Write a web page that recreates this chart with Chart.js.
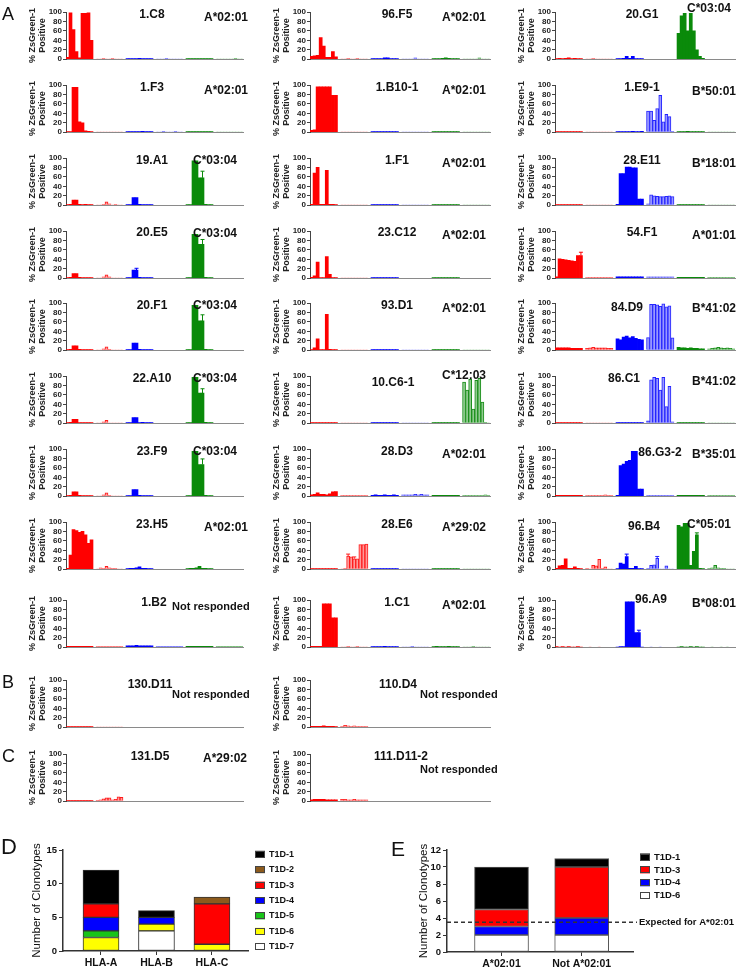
<!DOCTYPE html>
<html>
<head>
<meta charset="utf-8">
<script src="https://cdn.jsdelivr.net/npm/chart.js@4.4.1/dist/chart.umd.min.js"></script>
<style>
body { margin: 0; background: #fff; width: 741px; height: 968px; position: relative; overflow: hidden;
       font-family: Arial, "Liberation Sans", sans-serif; }
canvas { position: absolute; }
.t { position: absolute; font-weight: bold; font-size: 12px; color: #111; white-space: nowrap; line-height: 1; transform: translateY(-50%); }
.n { transform: translate(-50%, -50%); }
.nr { font-size: 11px; }
.L { position: absolute; font-size: 18px; color: #111; line-height: 1; transform: translateY(-50%); }
</style>
</head>
<body>
<script>
/* Groups of tested alleles: HLA-A (solid / light), HLA-B (solid / light), HLA-C (solid / light) */
var groupNames = ['A', 'A-ii', 'B', 'B-ii', 'C', 'C-ii'];
var slotNames = ['1', '2', '3', '4', '5', '6', '7', '8', '9'];

/* % ZsGreen-1 positive, 6 groups x 9 alleles, null = group not tested */
var p1C8 = [[4,98,63,16,3,97,97,98,40],[1,1,2,1,1,2,1,1,1],[1,1,1,1,2,1,1,1,1],[1,1,1,2,1,1,1,1,1],[1,1,1,1,1,1,1,1,1],[1,1,1,1,1,1,2,1,1]];
var p1F3 = [[1,1,95,95,22,20,3,2,1],[1,1,1,1,1,1,1,1,1],[1,1,1,1,1,2,1,1,1],[1,1,2,1,1,1,2,1,1],[1,1,1,1,1,1,1,1,1],[1,1,1,1,1,1,1,1,1]];
var p19A1 = [[1,2,11,11,2,1,2,1,1],[1,1,2,7,3,1,2,1,1],[1,1,16,16,2,1,1,1,1],null,[1,1,94,94,58,58,2,1,1],null];
var p20E5 = [[1,2,10,10,2,1,1,1,1],[1,1,3,7,3,1,1,1,1],[1,1,17,17,2,1,1,1,1],null,[1,1,93,93,72,72,2,1,1],null];
var p20F1 = [[1,2,9,9,2,1,1,1,1],[1,1,3,7,2,1,1,1,1],[1,1,15,15,2,1,1,1,1],null,[1,1,95,95,62,62,2,1,1],null];
var p22A10 = [[1,2,8,8,1,1,1,1,1],[1,1,3,6,1,1,1,1,1],[1,1,12,12,1,2,1,1,1],null,[1,1,97,97,64,64,2,1,1],null];
var p23F9 = [[1,2,9,9,2,1,1,1,1],[1,1,3,7,2,1,1,1,1],[1,1,14,14,2,1,1,1,1],null,[1,1,95,95,67,67,2,1,1],null];
var p23H5 = [[2,30,84,82,78,80,73,55,62],[1,3,2,6,3,2,2,1,1],[1,2,2,3,5,2,2,1,1],null,[1,2,2,3,6,2,2,1,1],null];
var p1B2 = [[2,2,2,2,2,2,2,2,2],[2,2,2,2,2,2,2,2,2],[3,3,3,4,3,3,3,3,3],[2,2,2,2,2,2,2,2,2],[2,2,2,2,2,2,2,2,2],[2,2,2,2,2,2,2,2,2]];

var p96F5 = [[6,7,8,46,28,4,4,16,5],[1,1,2,1,1,2,1,1,1],[1,1,1,1,3,3,1,1,1],[1,1,1,1,3,1,1,1,1],[1,1,1,2,3,2,1,1,1],[1,1,1,1,1,3,1,1,1]];
var p1B101 = [[4,5,96,96,96,96,96,78,78],[1,1,1,1,1,1,1,1,1],[1,1,1,1,1,1,1,1,1],[1,1,1,1,1,1,1,1,1],[1,1,1,1,1,1,1,1,1],[1,1,1,1,1,1,1,1,1]];
var p1F1 = [[2,68,80,2,2,74,2,2,1],[1,1,1,1,1,1,1,1,1],[1,1,1,1,1,1,1,1,1],[1,1,1,1,1,1,1,1,1],[1,1,1,1,1,1,1,1,1],[1,1,1,1,1,1,1,1,1]];
var p23C12 = [[2,5,34,1,1,46,8,1,1],[1,1,1,1,1,1,1,1,1],[1,1,1,1,1,1,1,1,1],null,[1,1,1,1,1,1,1,1,1],null];
var p93D1 = [[1,5,24,1,1,76,2,1,1],[1,1,1,1,1,1,1,1,1],[1,1,1,1,1,1,1,1,1],[1,1,1,1,1,1,1,1,1],[1,1,1,1,1,1,1,1,1],[1,1,1,1,1,1,1,1,1]];
var p10C61 = [[1,1,1,1,1,1,1,1,1],[1,1,1,1,1,1,1,1,1],[1,1,1,1,1,1,1,1,1],[1,1,1,1,1,1,1,1,1],[1,1,1,1,1,1,1,1,1],[87,70,93,30,91,95,45,2,1]];
var p28D3 = [[3,4,7,4,4,3,5,9,10],[2,2,2,2,2,2,2,2,2],[2,3,2,2,3,2,2,3,2],[3,3,3,3,4,3,4,3,3],[2,2,2,2,2,2,2,2,2],[2,2,2,2,2,2,2,3,2]];
var p28E6 = [[1,1,1,1,1,1,1,1,1],[1,2,28,26,22,22,52,52,53],[1,1,1,1,1,1,1,1,1],[1,1,1,1,1,1,1,1,1],[1,1,1,1,1,1,1,1,1],[1,1,1,1,1,1,1,1,1]];
var p1C1 = [[2,2,2,2,92,92,92,62,62],[1,1,2,1,1,2,1,1,1],[1,1,1,1,2,1,1,1,1],[1,1,1,2,1,1,1,1,1],[1,2,1,1,1,2,1,1,1],[1,1,1,2,1,1,1,1,1]];

var p20G1 = [[1,2,1,2,3,1,2,1,1],[1,1,2,1,1,1,1,1,1],[1,1,2,6,2,6,1,1,1],null,[55,92,97,60,97,60,20,6,2],null];
var p1E91 = [[1,1,1,1,1,1,1,1,1],[1,1,1,1,1,1,1,1,1],[1,1,1,1,1,2,1,1,2],[45,45,25,50,78,22,38,33,2],[1,1,1,2,1,1,1,1,1],[1,1,1,1,1,1,1,1,1]];
var p28E11 = [[1,1,1,1,1,1,1,1,1],[1,1,1,1,1,1,1,1,1],[2,67,67,81,81,79,79,13,13],[3,22,20,19,18,18,19,20,18],[1,1,1,1,1,1,1,1,1],[1,1,1,1,1,1,1,1,1]];
var p54F1 = [[3,41,40,39,38,37,36,48,48],[2,2,2,2,2,2,2,2,2],[3,3,3,3,3,3,3,3,3],[3,3,3,3,3,3,3,3,3],[2,2,2,2,2,2,2,2,2],[2,2,2,2,2,2,2,2,2]];
var p84D9 = [[5,5,5,5,5,4,4,4,4],[4,5,6,5,5,5,5,4,4],[24,22,28,30,26,29,25,23,22],[27,97,97,96,93,98,92,94,26],[6,5,5,4,5,4,4,3,3],[3,4,5,6,5,4,5,4,3]];
var p86C1 = [[1,1,1,1,1,1,1,1,1],[1,1,1,1,1,1,1,1,1],[1,1,1,1,1,1,1,1,1],[5,92,97,95,70,97,35,78,3],[1,1,1,1,1,1,1,1,1],[1,1,1,1,1,1,1,1,1]];
var p86G32 = [[2,2,2,2,2,2,2,2,2],[2,2,2,2,2,2,3,2,2],[2,65,68,74,76,95,95,15,15],[2,2,2,2,2,2,2,2,2],[2,2,2,2,2,2,2,2,2],[2,2,2,2,2,2,2,2,2]];
var p96B4 = [[2,7,8,22,2,2,5,2,1],[2,1,8,7,21,2,5,1,1],[1,13,11,27,2,2,6,1,1],[2,8,9,23,1,1,7,1,1],[93,90,97,97,8,38,73,2,1],[2,3,8,3,2,2,1,1,1]];
var p96A9 = [[1,0,1,0,1,0,0,1,0],[0,1,0,0,1,0,0,0,0],[0,1,1,96,96,96,31,31,0],[0,1,0,0,1,0,0,0,0],[0,1,0,0,1,0,1,0,0],[0,1,0,0,1,0,1,0,0]];

var p130D11 = [[1,1,1,1,1,1,1,1,1],[1,1,1,1,1,1,1,1,1],null,null,null,null];
var p110D4 = [[2,2,2,2,3,2,2,2,1],[2,4,3,2,3,2,2,2,2],null,null,null,null];
var p131D5 = [[1,1,1,1,1,1,1,1,1],[2,3,5,7,7,3,4,9,8],null,null,null,null];
var p111D112 = [[3,4,4,4,4,3,3,3,3],[4,4,3,3,4,3,3,3,3],null,null,null,null];

/* error bars: [group, allele, +SD] */
var e19A1 = [[4, 5, 14]];
var e20E5 = [[4, 5, 10], [2, 3, 4]];
var e20F1 = [[4, 5, 13]];
var e22A10 = [[4, 5, 9]];
var e23F9 = [[4, 5, 12]];
var e54F1 = [[0, 8, 7]];
var e28E6 = [[1, 2, 4], [1, 4, 4]];
var e96A9 = [[2, 7, 5]];
var e96B4 = [[2, 3, 5], [3, 3, 4], [4, 6, 4]];

/* D: clonotypes per locus */
var dCats = ['HLA-A', 'HLA-B', 'HLA-C'];
var dT1D1 = [5, 1, 0];
var dT1D2 = [0, 0, 1];
var dT1D3 = [2, 0, 6];
var dT1D4 = [2, 1, 0];
var dT1D5 = [1, 0, 0];
var dT1D6 = [2, 1, 1];
var dT1D7 = [0, 3, 0];

/* E: A*02:01 vs others */
var eCats = ['A*02:01', 'Not A*02:01'];
var eT1D1 = [5, 1];
var eT1D3 = [2, 6];
var eT1D4 = [1, 2];
var eT1D6 = [2, 2];
var eExpected = 3.5;

var groupFill = ['#ff0000', '#ff9a9a', '#0000ff', '#9a9aff', '#0a8a0a', '#8fca8f'];
var groupEdge = ['#ff0000', '#ff1a1a', '#0000ff', '#2424ff', '#0a8a0a', '#1b8f1b'];
var groupBorder = [0, 1, 0, 1, 0, 1];

var colAxis = [66, 310, 555];
var colEnd = [243, 490, 735];
var colName = [152, 397, 642];
var colHla = [204, 442, 692];
var rowTop = [12, 85, 158, 230.5, 303, 376, 449, 522, 600];

var panels = [
  { name: '1.C8', hla: 'A*02:01', col: 0, top: rowTop[0], data: p1C8 },
  { name: '1.F3', hla: 'A*02:01', col: 0, top: rowTop[1], data: p1F3 },
  { name: '19.A1', hla: 'C*03:04', col: 0, top: rowTop[2], data: p19A1, err: e19A1, hx: 193, hy: 2 },
  { name: '20.E5', hla: 'C*03:04', col: 0, top: rowTop[3], data: p20E5, err: e20E5, hx: 193, hy: 2 },
  { name: '20.F1', hla: 'C*03:04', col: 0, top: rowTop[4], data: p20F1, err: e20F1, hx: 193, hy: 2 },
  { name: '22.A10', hla: 'C*03:04', col: 0, top: rowTop[5], data: p22A10, err: e22A10, hx: 193, hy: 2 },
  { name: '23.F9', hla: 'C*03:04', col: 0, top: rowTop[6], data: p23F9, err: e23F9, hx: 193, hy: 2 },
  { name: '23.H5', hla: 'A*02:01', col: 0, top: rowTop[7], data: p23H5 },
  { name: '1.B2', hla: 'Not responded', col: 0, top: rowTop[8], data: p1B2, nx: 154, hx: 172, hy: 6, small: true },

  { name: '96.F5', hla: 'A*02:01', col: 1, top: rowTop[0], data: p96F5 },
  { name: '1.B10-1', hla: 'A*02:01', col: 1, top: rowTop[1], data: p1B101 },
  { name: '1.F1', hla: 'A*02:01', col: 1, top: rowTop[2], data: p1F1 },
  { name: '23.C12', hla: 'A*02:01', col: 1, top: rowTop[3], data: p23C12 },
  { name: '93.D1', hla: 'A*02:01', col: 1, top: rowTop[4], data: p93D1 },
  { name: '10.C6-1', hla: 'C*12:03', col: 1, top: rowTop[5], data: p10C61, nx: 393, ny: 6, hy: -1 },
  { name: '28.D3', hla: 'A*02:01', col: 1, top: rowTop[6], data: p28D3 },
  { name: '28.E6', hla: 'A*29:02', col: 1, top: rowTop[7], data: p28E6, err: e28E6 },
  { name: '1.C1', hla: 'A*02:01', col: 1, top: rowTop[8], data: p1C1 },

  { name: '20.G1', hla: 'C*03:04', col: 2, top: rowTop[0], data: p20G1, hx: 687, hy: -4.5 },
  { name: '1.E9-1', hla: 'B*50:01', col: 2, top: rowTop[1], data: p1E91, hy: 6 },
  { name: '28.E11', hla: 'B*18:01', col: 2, top: rowTop[2], data: p28E11 },
  { name: '54.F1', hla: 'A*01:01', col: 2, top: rowTop[3], data: p54F1, err: e54F1 },
  { name: '84.D9', hla: 'B*41:02', col: 2, top: rowTop[4], data: p84D9, nx: 627, ny: 3.5, hy: 5 },
  { name: '86.C1', hla: 'B*41:02', col: 2, top: rowTop[5], data: p86C1, nx: 624 },
  { name: '86.G3-2', hla: 'B*35:01', col: 2, top: rowTop[6], data: p86G32, nx: 660, ny: 3 },
  { name: '96.B4', hla: 'C*05:01', col: 2, top: rowTop[7], data: p96B4, err: e96B4, nx: 644, ny: 4, hx: 687, hy: 2 },
  { name: '96.A9', hla: 'B*08:01', col: 2, top: rowTop[8], data: p96A9, err: e96A9, nx: 651, ny: -1, hy: 2.5 },

  { name: '130.D11', hla: 'Not responded', col: 0, top: 680, data: p130D11, nx: 150, ny: 4, hx: 172, hy: 14, small: true },
  { name: '110.D4', hla: 'Not responded', col: 1, top: 680, data: p110D4, nx: 398, ny: 4, hx: 420, hy: 14, small: true },
  { name: '131.D5', hla: 'A*29:02', col: 0, top: 754, data: p131D5, nx: 150, ny: 2, hx: 203, hy: 4 },
  { name: '111.D11-2', hla: 'Not responded', col: 1, top: 754, data: p111D112, nx: 401, ny: 2, hx: 420, hy: 15, small: true }
];

var slotLabels = [];
groupNames.forEach(function(g, gi) {
  slotNames.forEach(function(s) { slotLabels.push(g + '.' + s); });
  if (gi < groupNames.length - 1) slotLabels.push('');
});

function addText(cls, text, x, y) {
  var d = document.createElement('div');
  d.className = cls;
  d.textContent = text;
  d.style.left = x + 'px';
  d.style.top = y + 'px';
  document.body.appendChild(d);
  return d;
}

function makeCanvas(left, top, w, h) {
  var c = document.createElement('canvas');
  c.width = w; c.height = h;
  c.style.left = left + 'px'; c.style.top = top + 'px';
  c.style.width = w + 'px'; c.style.height = h + 'px';
  document.body.appendChild(c);
  return c.getContext('2d');
}

/* upper whiskers for the few bars that show an SD */
var whiskers = {
  id: 'whiskers',
  afterDatasetsDraw: function(chart, args, o) {
    if (!o.list) return;
    var c = chart.ctx, y = chart.scales.y, meta = chart.getDatasetMeta(0);
    c.save();
    c.lineWidth = 1;
    o.list.forEach(function(e) {
      var i = e[0] * (slotNames.length + 1) + e[1];
      var bar = meta.data[i];
      var v = chart.data.datasets[0].data[i];
      var top = y.getPixelForValue(v + e[2]);
      c.strokeStyle = groupEdge[e[0]];
      c.beginPath();
      c.moveTo(bar.x, bar.y); c.lineTo(bar.x, top);
      c.moveTo(bar.x - 2, top); c.lineTo(bar.x + 2, top);
      c.stroke();
    });
    c.restore();
  }
};

function smallChart(p) {
  var left = colAxis[p.col] - 66;
  var w = colEnd[p.col] - left + 4;
  var ctx = makeCanvas(left, p.top - 8, w, 61);
  var vals = [], fills = [], edges = [], bw = [];
  p.data.forEach(function(grp, gi) {
    for (var i = 0; i < slotNames.length; i++) {
      vals.push(grp ? grp[i] : null);
      fills.push(groupFill[gi]); edges.push(groupEdge[gi]); bw.push(groupBorder[gi]);
    }
    if (gi < p.data.length - 1) { vals.push(null); fills.push('#fff'); edges.push('#fff'); bw.push(0); }
  });

  new Chart(ctx, {
    type: 'bar',
    data: {
      labels: slotLabels,
      datasets: [{ data: vals, backgroundColor: fills, borderColor: edges, borderWidth: bw,
                   borderSkipped: 'start', barPercentage: 1, categoryPercentage: 1 }]
    },
    plugins: [whiskers],
    options: {
      responsive: false, animation: false, events: [],
      layout: { padding: { top: 8, bottom: 3, left: 0, right: 4 } },
      plugins: { legend: { display: false }, tooltip: { enabled: false }, whiskers: { list: p.err } },
      scales: {
        x: { grid: { display: false, drawTicks: false }, ticks: { display: false },
             border: { color: '#8a8a8a', width: 1 },
             afterFit: function(s) { s.height = 0; } },
        y: { min: 0, max: 100,
             ticks: { stepSize: 20, autoSkip: false, padding: 1, color: '#222', font: { family: 'Arial', size: 8, weight: 'bold' } },
             grid: { drawOnChartArea: false, tickLength: 3, color: '#444' },
             border: { color: '#444', width: 1 },
             title: { display: true, text: ['% ZsGreen-1', 'Positive'], color: '#222',
                      font: { family: 'Arial', size: 9, weight: 'bold', lineHeight: 1.1 },
                      padding: { top: 27.5, bottom: 0 } },
             afterFit: function(s) { s.width = 66; } }
      }
    }
  });

  addText('t n', p.name, p.nx != null ? p.nx : colName[p.col], p.top + (p.ny != null ? p.ny : 1.5));
  addText(p.small ? 't nr' : 't', p.hla, p.hx != null ? p.hx : colHla[p.col], p.top + (p.hy != null ? p.hy : 4.5));
}

panels.forEach(smallChart);

/* legend drawn at fixed spot, top entry = last dataset */
var boxLegend = {
  id: 'boxLegend',
  afterDraw: function(chart, args, o) {
    var c = chart.ctx;
    var ds = chart.data.datasets.slice().reverse();
    c.save();
    c.font = 'bold ' + o.size + 'px Arial';
    c.textBaseline = 'middle';
    ds.forEach(function(d, i) {
      var y = o.y + i * o.step;
      c.fillStyle = d.backgroundColor;
      c.fillRect(o.x, y - o.h / 2, o.w, o.h);
      c.strokeStyle = '#444'; c.lineWidth = 1;
      c.strokeRect(o.x + 0.5, Math.round(y - o.h / 2) + 0.5, o.w - 1, o.h - 1);
      c.fillStyle = '#111';
      c.fillText(d.label, o.x + o.w + 4, y);
    });
    c.restore();
  }
};

var expectedLine = {
  id: 'expectedLine',
  afterDatasetsDraw: function(chart, args, o) {
    var c = chart.ctx, a = chart.chartArea;
    var y = chart.scales.y.getPixelForValue(o.value);
    c.save();
    c.strokeStyle = '#333'; c.lineWidth = 1.5; c.setLineDash([4, 3]);
    c.beginPath(); c.moveTo(a.left, y); c.lineTo(a.right + 4, y); c.stroke();
    c.setLineDash([]);
    c.fillStyle = '#111'; c.font = 'bold 9.5px Arial'; c.textBaseline = 'middle';
    c.fillText(o.text, a.right + 6, y);
    c.restore();
  }
};

function pts(arr) {
  return arr.map(function(v, i) { return v ? { x: i, y: v } : null; }).filter(function(v) { return v; });
}

function stackChart(cfg) {
  var ctx = makeCanvas(cfg.left, 835, cfg.width, 133);
  new Chart(ctx, {
    type: 'bar',
    data: { datasets: cfg.sets.map(function(s) {
      return { label: s[0], data: pts(s[1]), backgroundColor: s[2], borderColor: cfg.edge,
               borderWidth: 1, borderSkipped: false, barThickness: cfg.bar };
    }) },
    plugins: cfg.plugins,
    options: {
      responsive: false, animation: false, events: [],
      layout: { padding: { top: 15, right: cfg.padRight, bottom: 0, left: 0 } },
      plugins: { legend: { display: false }, tooltip: { enabled: false },
                 boxLegend: cfg.legend, expectedLine: cfg.expected },
      scales: {
        x: { type: 'linear', stacked: true, offset: false, min: cfg.xMin, max: cfg.xMax,
             afterBuildTicks: function(s) { s.ticks = cfg.cats.map(function(c, i) { return { value: i }; }); },
             ticks: { autoSkip: false, maxRotation: 0, padding: 2, color: '#111',
                      font: { family: 'Arial', size: 10.5, weight: 'bold' },
                      callback: function(v) { return cfg.cats[v]; } },
             grid: { offset: false, drawOnChartArea: false, tickLength: 4, color: '#333' },
             border: { color: '#333', width: 1.5 },
             afterFit: function(s) { s.height = cfg.xh; } },
        y: { stacked: true, min: 0, max: cfg.yMax,
             ticks: { stepSize: cfg.yStep, autoSkip: false, padding: 2, color: '#111', font: { family: 'Arial', size: 9.5, weight: 'bold' } },
             grid: { drawOnChartArea: false, tickLength: 4, color: '#333' },
             border: { color: '#333', width: 1.5 },
             title: { display: true, text: 'Number of Clonotypes', color: '#111',
                      font: { family: 'Arial', size: 11.5, lineHeight: 1.2 }, padding: { top: cfg.titlePad, bottom: 0 } },
             afterFit: function(s) { s.width = cfg.yw; } }
      }
    }
  });
}

stackChart({
  left: 0, width: 370, padRight: 122, yw: 63, xh: 17, titlePad: 30, bar: 36,
  cats: dCats, xMin: -0.685, xMax: 2.65, yMax: 15, yStep: 5, edge: '#333',
  sets: [['T1D-7', dT1D7, '#ffffff'], ['T1D-6', dT1D6, '#ffff00'], ['T1D-5', dT1D5, '#18c418'],
         ['T1D-4', dT1D4, '#0000ff'], ['T1D-3', dT1D3, '#ff0000'], ['T1D-2', dT1D2, '#8c5a1c'],
         ['T1D-1', dT1D1, '#000000']],
  legend: { x: 255, y: 19.3, step: 15.4, w: 10, h: 7, size: 9 },
  expected: false,
  plugins: [boxLegend]
});

stackChart({
  left: 370, width: 371, padRight: 108, yw: 77, xh: 16, titlePad: 47, bar: 54,
  cats: eCats, xMin: -0.68, xMax: 1.64, yMax: 12, yStep: 2, edge: '#555',
  sets: [['T1D-6', eT1D6, '#ffffff'], ['T1D-4', eT1D4, '#0000ff'], ['T1D-3', eT1D3, '#ff0000'],
         ['T1D-1', eT1D1, '#000000']],
  legend: { x: 270, y: 22, step: 12.9, w: 10, h: 7, size: 9.5 },
  expected: { value: eExpected, text: 'Expected for A*02:01' },
  plugins: [boxLegend, expectedLine]
});

addText('L', 'A', 2, 14);
addText('L', 'B', 2, 682);
addText('L', 'C', 2, 756);
addText('L', 'D', 1, 847).style.fontSize = '22px';
addText('L', 'E', 391, 848).style.fontSize = '21px';
</script>
</body>
</html>
